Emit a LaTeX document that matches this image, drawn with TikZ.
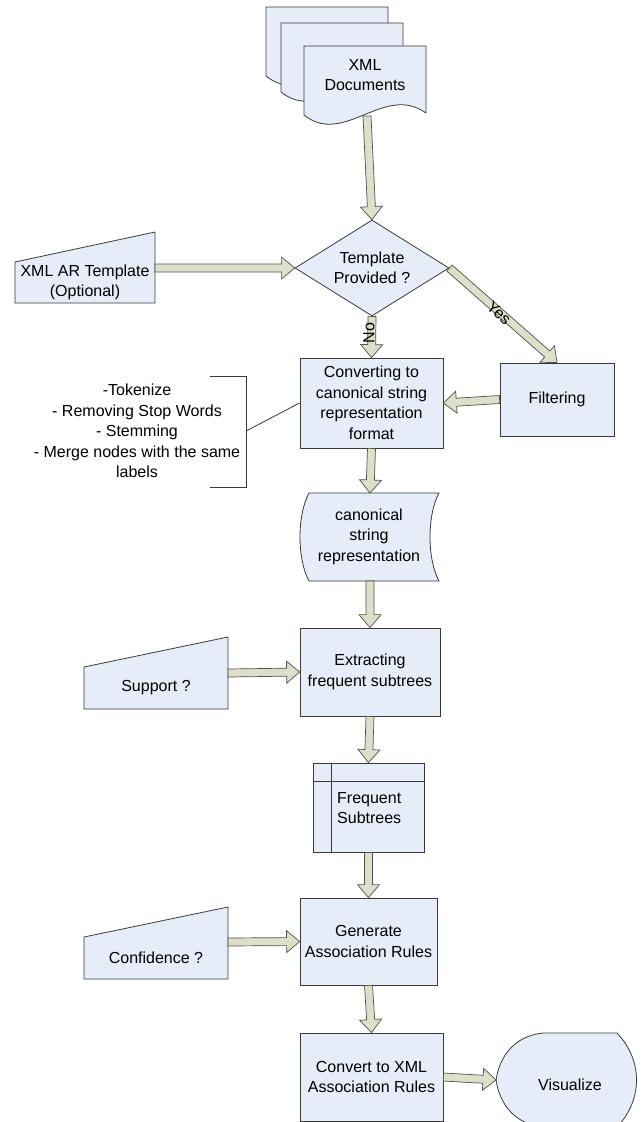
\documentclass[tikz,border=0pt]{standalone}
\usepackage{fontspec}
\setmainfont{Liberation Sans}
\usetikzlibrary{calc,shapes.geometric}
\definecolor{boxfill}{HTML}{E6ECF8}
\definecolor{arrfill}{HTML}{DCE0C8}
\definecolor{edgecol}{HTML}{3A3A3A}
\definecolor{arredge}{HTML}{505050}
\newcommand\fs{\fontsize{16}{20.5}\selectfont}
\tikzset{
 shapebox/.style={draw=edgecol, fill=boxfill, line width=0.8pt},
 procbox/.style={shapebox, rectangle, align=center, inner sep=0pt, font=\fs},
 txt/.style={align=center, inner sep=0pt, font=\fs},
 fatarr/.style={draw=arredge, fill=arrfill, line width=0.7pt, line join=miter},
 thinline/.style={draw=edgecol, line width=0.8pt},
}
\newcommand\fatarrow[2]{%
  \coordinate (fahb) at ($(#2)!13pt!(#1)$);
  \filldraw[fatarr] ($(#1)!4pt!90:(#2)$) -- ($(fahb)!4pt!90:(#2)$) -- ($(fahb)!11pt!90:(#2)$) -- (#2) -- ($(fahb)!11pt!-90:(#2)$) -- ($(fahb)!4pt!-90:(#2)$) -- ($(#1)!4pt!-90:(#2)$) -- cycle;}
\newcommand\docpage[2]{\filldraw[shapebox] (#1,#2) -- ({#1+122},#2) -- ({#1+122},{#2+67}) .. controls ({#1+80},{#2+37}) and ({#1+40},{#2+101}) .. (#1,{#2+69}) -- cycle;}
\begin{document}
\begin{tikzpicture}[x=1pt,y=-1pt]
\useasboundingbox (0,0) rectangle (640,1122);
% documents
\docpage{266}{7}
\docpage{281}{23}
\docpage{304}{46}
\node[txt] (docs) at (365,75) {XML\\Documents};
\coordinate (docsout) at (367,116);
% decision
\node[shapebox, diamond, aspect=1.6, minimum width=154pt, minimum height=96pt, inner sep=0pt, align=center, font=\fs] (dec) at (372,268) {Template\\Provided ?};
% XML AR template (manual input)
\filldraw[shapebox] (15,262) -- (155,232) -- (155,303) -- (15,303) -- cycle;
\node[txt] (xmlar) at (85,282.5) {XML AR Template\\(Optional)};
\coordinate (xmlarout) at (155,268);
% converting
\node[procbox, minimum width=143pt, minimum height=90pt] (conv) at (371.5,403) {Converting to\\canonical string\\representation\\format};
% filtering
\node[procbox, minimum width=114pt, minimum height=73pt] (filt) at (557,399.5) {Filtering};
% annotation
\node[txt] (steps) at (137,431) {-Tokenize\\- Removing Stop Words\\- Stemming\\- Merge nodes with the same\\labels};
\draw[thinline] (210,376) -- (246,376) -- (246,487) -- (210,487);
\coordinate (brk) at (246,431);
\draw[thinline] (brk) -- (conv.west);
% canonical string representation (stored data)
\filldraw[shapebox] (309,493) -- (439,493) .. controls (427,515) and (427,559) .. (439,581) -- (309,581) .. controls (297,559) and (297,515) .. (309,493) -- cycle;
\node[txt] (canon) at (369,536.5) {canonical\\string\\representation};
\coordinate (canonN) at (370,493);
\coordinate (canonS) at (370,581);
% extracting
\node[procbox, minimum width=140pt, minimum height=88pt] (ext) at (370,672) {Extracting\\frequent subtrees};
% support
\filldraw[shapebox] (84,667) -- (228,637) -- (228,709) -- (84,709) -- cycle;
\node[txt] (sup) at (156,688) {Support ?};
\coordinate (supout) at (228,673);
% frequent subtrees (internal storage)
\node[shapebox, rectangle, minimum width=111pt, minimum height=89pt, inner sep=0pt] (freq) at (368.5,807.5) {};
\draw[thinline] (331,763) -- (331,852);
\draw[thinline] (313,781) -- (424,781);
\node[txt, align=left, anchor=west] (freqtxt) at (337,808) {Frequent\\Subtrees};
% generate
\node[procbox, minimum width=137pt, minimum height=87pt] (gen) at (368.5,941.5) {Generate\\Association Rules};
% confidence
\filldraw[shapebox] (84,937) -- (228,907) -- (228,979) -- (84,979) -- cycle;
\node[txt] (conf) at (156,958) {Confidence ?};
\coordinate (confout) at (228,942);
% convert
\node[procbox, minimum width=143pt, minimum height=88pt] (conv2) at (371.5,1077) {Convert to XML\\Association Rules};
% visualize (display)
\filldraw[shapebox] (496,1080) .. controls (500,1055) and (515,1036) .. (543,1033) -- (617,1033) .. controls (643,1060) and (643,1100) .. (617,1127) -- (543,1127) .. controls (515,1124) and (500,1105) .. (496,1080) -- cycle;
\node[txt] (vis) at (570,1085) {Visualize};
\coordinate (visin) at (496,1080);
% arrows
\fatarrow{docsout}{dec.north}
\fatarrow{xmlarout}{dec.west}
\fatarrow{dec.south}{conv.north}
\fatarrow{dec.east}{filt.north}
\fatarrow{filt.west}{conv.east}
\fatarrow{conv.south}{canonN}
\fatarrow{canonS}{ext.north}
\fatarrow{supout}{ext.west}
\fatarrow{ext.south}{freq.north}
\fatarrow{freq.south}{gen.north}
\fatarrow{confout}{gen.west}
\fatarrow{gen.south}{conv2.north}
\fatarrow{conv2.east}{visin}
% labels
\node[txt, rotate=90] (nolbl) at (369,333) {No};
\node[txt, rotate=-42] (yeslbl) at (499,313) {Yes};
\end{tikzpicture}
\end{document}
